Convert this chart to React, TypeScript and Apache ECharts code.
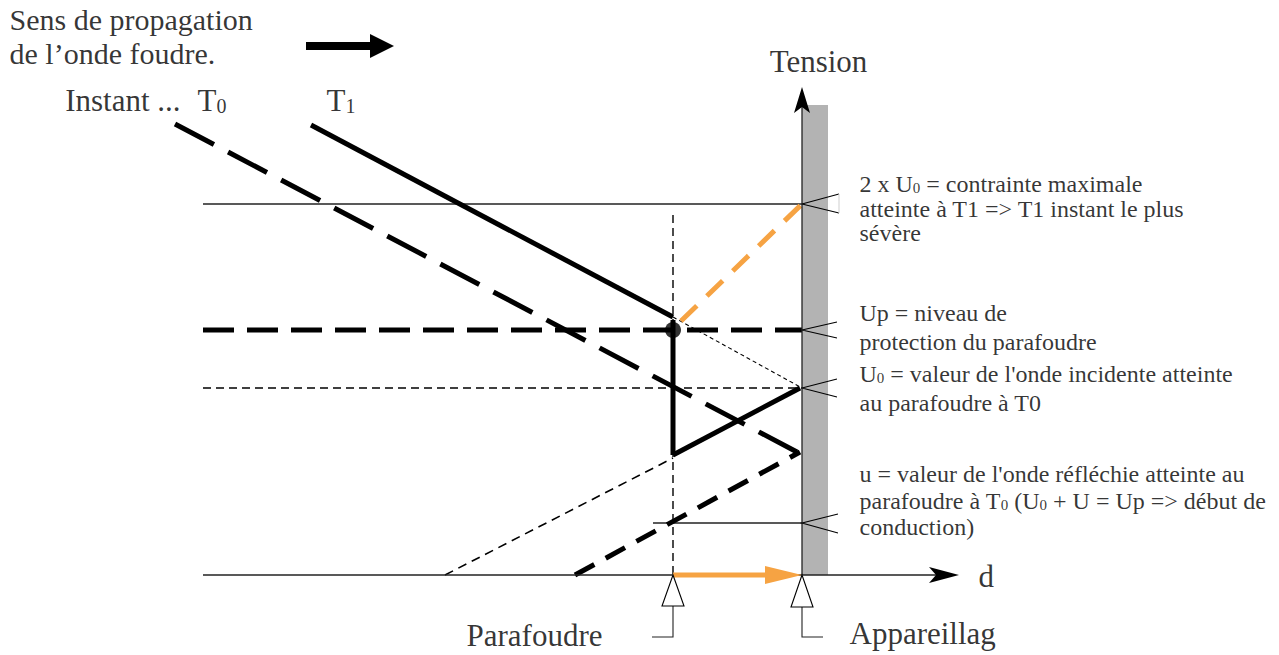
import React, { useEffect, useRef } from "react";
import * as echarts from "echarts";

// Diagram space: x = distance (px-like units), y = screen-like units (axis inverted)
const equipmentBand = [[802, 105], [828, 105], [828, 575], [802, 575]];

const levelTwoU0 = [[203, 204], [802, 204]];
const levelUp = [[203, 330], [802, 330]];
const levelU0 = [[203, 388], [802, 388]];
const levelSmallU = [[653, 523], [802, 523]];
const parafoudreMarker = [[673, 215], [673, 575]];

const waveT0 = [[175, 124], [797, 452]];
const waveT1 = [[311, 125], [673, 317]];
const waveT1Ghost = [[673, 317], [802, 388]];
const doubledWave = [[681, 321], [802, 204]];
const clampVertical = [[673, 320], [673, 455]];
const clampReturn = [[673, 455], [800, 388]];
const reflectedThin = [[445, 575], [673, 458]];
const reflectedT0 = [[575, 575], [800, 452]];
const limiterPoint = [[673, 330]];

const dAxis = [[203, 575], [936, 575]];
const tensionAxis = [[802, 575], [802, 106]];
const travelArrow = [[673, 575], [768, 575]];
const propagationArrow = [[306, 46], [372, 46]];

const tensionArrowHead = [[802, 87], [794, 113], [802, 107], [810, 113]];
const dArrowHead = [[959, 575], [929, 567], [936, 575], [929, 583]];
const travelArrowHead = [[802, 575], [765, 566], [765, 584]];
const propagationArrowHead = [[394, 46], [370, 34], [370, 58]];

const calloutTwoU0 = [[839, 194], [802, 204], [839, 213]];
const calloutTwoU0Edge = [[839, 194], [839, 213]];
const calloutUp = [[837, 322], [802, 330], [837, 338]];
const calloutU0 = [[837, 379], [802, 388], [837, 397]];
const calloutSmallU = [[838, 514], [802, 523], [838, 533]];

const pointerParafoudre = [[673, 575], [662, 606], [684, 606]];
const pointerAppareil = [[802, 575], [791, 607], [813, 607]];
const leaderParafoudre = [[673, 606], [673, 637], [652, 637]];
const leaderAppareil = [[802, 607], [802, 637], [823, 637]];

const headerLines = ["Sens de propagation", "de l’onde foudre."];
const instantLabels = ["Instant ...", "T{s|0}", "T{s|1}"];
const axisLabels = ["Tension", "d"];
const locationLabels = ["Parafoudre", "Appareillag"];
const noteTwoU0 = ["2 x U{s|0} = contrainte maximale", "atteinte à T1 => T1 instant le plus", "sévère"];
const noteUp = ["Up = niveau de", "protection du parafoudre"];
const noteU0 = ["U{s|0} = valeur de l'onde incidente atteinte", "au parafoudre à T0"];
const noteSmallU = [
  "u = valeur de l'onde réfléchie atteinte au",
  "parafoudre à T{s|0} (U{s|0} + U = Up => début de",
  "conduction)",
];

const FONT = "Liberation Serif";
const ORANGE = "#F6A343";
const INK = "#000";

function seg(data: number[][], width: number, color: string, dash?: number[] | string, z = 3) {
  return {
    type: "line",
    data,
    symbol: "none",
    silent: true,
    animation: false,
    clip: false,
    z,
    lineStyle: { width, color, type: dash || "solid", cap: "butt", join: "miter" },
  };
}

function poly(points: number[][], fill: string, stroke: string | null, lineWidth: number, z = 4) {
  return {
    type: "custom",
    coordinateSystem: "cartesian2d",
    data: [[0, 0]],
    silent: true,
    clip: false,
    z,
    renderItem: (_p: any, api: any) => ({
      type: "polygon",
      shape: { points: points.map((pt) => api.coord(pt)) },
      style: { fill, stroke: stroke || "none", lineWidth },
    }),
  };
}

function label(text: string, at: number[], size: number, align = "left", lh?: number) {
  const sub = Math.round(size * 0.64);
  return {
    type: "scatter",
    data: [at],
    symbolSize: 1,
    silent: true,
    z: 10,
    itemStyle: { color: "rgba(0,0,0,0)" },
    label: {
      show: true,
      position: [0, 0],
      align,
      verticalAlign: "middle",
      formatter: text,
      color: INK,
      fontFamily: FONT,
      fontSize: size,
      lineHeight: lh || size,
      rich: {
        s: {
          fontFamily: FONT,
          fontSize: sub,
          lineHeight: Math.round(size * 0.4),
          verticalAlign: "bottom",
          color: INK,
        },
      },
    },
  };
}

export default function App() {
  const ref = useRef<HTMLDivElement>(null);
  useEffect(() => {
    if (!ref.current) return;
    const chart = echarts.init(ref.current, undefined, { renderer: "svg" });
    const thin = 1.3;
    const series: any[] = [
      poly(equipmentBand, "#B3B3B3", null, 0, 1),
      seg(levelTwoU0, thin, "#222"),
      seg(levelUp, 5, INK, [31, 13]),
      seg(levelU0, 1.4, INK, [8, 5]),
      seg(levelSmallU, thin, "#222"),
      seg(parafoudreMarker, 1.4, INK, [8, 5]),
      seg(waveT0, 5, INK, [44, 16]),
      seg(waveT1, 5, INK),
      seg(waveT1Ghost, 1.1, INK, [4, 3]),
      seg(doubledWave, 5, ORANGE, [22, 14]),
      seg(clampVertical, 5, INK),
      seg(clampReturn, 5, INK),
      seg(reflectedThin, 1.6, INK, [9, 6]),
      seg(reflectedT0, 5, INK, [22, 13]),
      seg(dAxis, thin, "#222", undefined, 5),
      seg(tensionAxis, thin, "#222", undefined, 5),
      seg(travelArrow, 5, ORANGE, undefined, 6),
      seg(propagationArrow, 8, INK),
      poly(tensionArrowHead, INK, null, 0, 6),
      poly(dArrowHead, INK, null, 0, 6),
      poly(travelArrowHead, ORANGE, null, 0, 6),
      poly(propagationArrowHead, INK, null, 0, 6),
      seg(calloutTwoU0, 1.1, INK, undefined, 6),
      seg(calloutTwoU0Edge, 1, "#cfcfcf", undefined, 6),
      seg(calloutUp, 1.1, INK, undefined, 6),
      seg(calloutU0, 1.1, INK, undefined, 6),
      seg(calloutSmallU, 1.1, INK, undefined, 6),
      poly(pointerParafoudre, "#fff", INK, 1.1, 7),
      poly(pointerAppareil, "#fff", INK, 1.1, 7),
      seg(leaderParafoudre, 1.1, "#222", undefined, 6),
      seg(leaderAppareil, 1.1, "#222", undefined, 6),
      {
        type: "scatter",
        data: limiterPoint,
        symbolSize: 16,
        silent: true,
        z: 8,
        itemStyle: { color: INK },
      },
      label(headerLines[0], [10, 20], 30, "left", 30),
      label(headerLines[1], [10, 54], 30, "left", 30),
      label(instantLabels[0], [181, 101], 31, "right"),
      label(instantLabels[1], [198, 101], 31),
      label(instantLabels[2], [327, 101], 31),
      label(axisLabels[0], [819, 62], 31, "center"),
      label(axisLabels[1], [979, 577], 31),
      label(locationLabels[0], [467, 636], 31),
      label(locationLabels[1], [850, 634], 31),
      label(noteTwoU0[0], [860, 184], 24),
      label(noteTwoU0[1], [860, 209], 24),
      label(noteTwoU0[2], [860, 233], 24),
      label(noteUp[0], [860, 313], 24),
      label(noteUp[1], [860, 342], 24),
      label(noteU0[0], [860, 374], 24),
      label(noteU0[1], [860, 403], 24),
      label(noteSmallU[0], [860, 474], 24),
      label(noteSmallU[1], [860, 501], 24),
      label(noteSmallU[2], [860, 527], 24),
    ];
    chart.setOption({
      animation: false,
      backgroundColor: "#fff",
      textStyle: { fontFamily: FONT },
      grid: { left: 0, right: 0, top: 0, bottom: 0 },
      xAxis: { type: "value", min: 0, max: 1279, show: false },
      yAxis: { type: "value", min: 0, max: 655, inverse: true, show: false },
      tooltip: { show: false },
      series,
    });
    return () => chart.dispose();
  }, []);
  return (
    <div
      ref={ref}
      style={{ position: "absolute", left: 0, top: 0, width: 1279, height: 655, background: "#fff" }}
    />
  );
}
